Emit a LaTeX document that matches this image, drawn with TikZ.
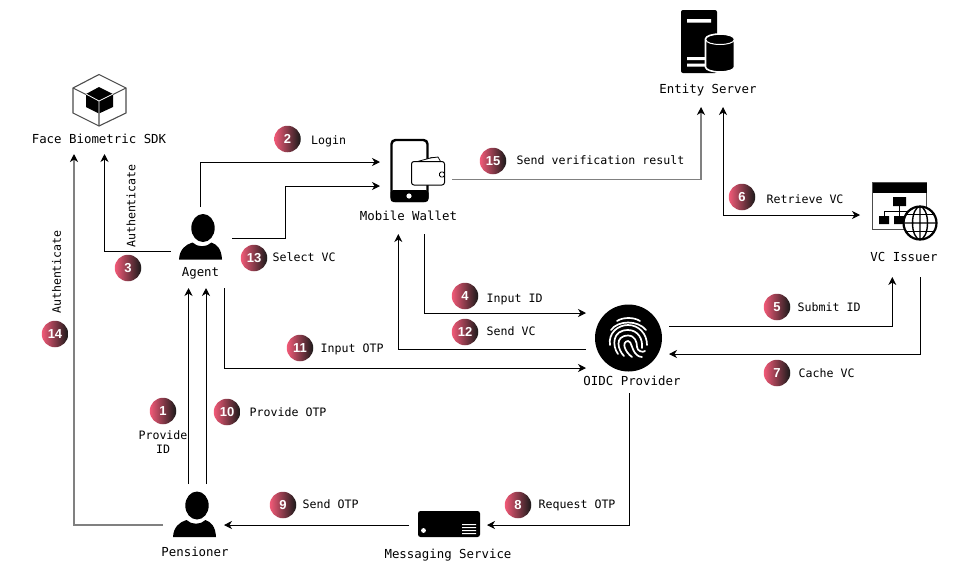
\documentclass[tikz,border=0pt]{standalone}
\usepackage{fontspec}
\setmonofont{DejaVu Sans Mono}
\newfontfamily\digitfont{Liberation Sans}
\usetikzlibrary{arrows.meta, positioning, calc}
\definecolor{badgepink}{HTML}{F25A78}
\definecolor{badgewine}{HTML}{8E2A44}
\tikzset{
    person/.pic={
        \fill[black] (2.5,-31.5) ellipse (11.7 and 14);
        \fill[black] (-21.5,0) .. controls (-21,-10) and (-15,-15) .. (-8,-17) .. controls (-3,-12) and (6,-12) .. (11,-17) .. controls (17,-15) and (21,-10) .. (21.5,0) -- cycle;
    }
}

\begin{document}
\begin{tikzpicture}[
        x=1pt, y=-1pt,
        iconbox/.style={rectangle, inner sep=0pt, outer sep=0pt},
        actorname/.style={font=\ttfamily\fontsize{12.4}{14}\selectfont, text height=9pt, text depth=2.5pt, inner sep=0pt},
        steptext/.style={font=\ttfamily\fontsize{11.6}{14}\selectfont, text height=9pt, text depth=2.5pt, inner sep=0pt},
        badge/.style={circle, minimum size=26.5pt, inner sep=0pt, left color=badgepink, middle color=badgewine, right color=black!90, text=white, font=\digitfont\bfseries\fontsize{13}{13}\selectfont},
        arrow/.style={-{Stealth[length=8pt, width=8pt, inset=2.5pt]}, line width=0.9pt, draw=black},
        fadearrow/.style={-{Stealth[length=8pt, width=8pt, inset=2.5pt, color=black]}, line width=1.1pt, draw=black!50},
        twoway/.style={{Stealth[length=8pt, width=8pt, inset=2.5pt]}-{Stealth[length=8pt, width=8pt, inset=2.5pt]}, line width=0.9pt, draw=black},
    ]
        \useasboundingbox (0,0) rectangle (969,571);

        % Actors (boxes hold icon and connector ends)
        \node[iconbox, minimum width=140pt, minimum height=84pt] (face) at (99,112) {};
        \node[iconbox, minimum width=61pt, minimum height=81pt] (agent) at (201.5,247.5) {};
        \node[iconbox, minimum width=72pt, minimum height=99pt] (wallet) at (416,184.5) {};
        \node[iconbox, minimum width=100pt, minimum height=102pt] (entity) at (708,56) {};
        \node[iconbox, minimum width=90pt, minimum height=102pt] (issuer) at (905,226) {};
        \node[iconbox, minimum width=83pt, minimum height=98pt] (oidc) at (627.5,344) {};
        \node[iconbox, minimum width=61pt, minimum height=78pt] (pensioner) at (193.5,523) {};
        \node[iconbox, minimum width=78pt, minimum height=40pt] (messaging) at (448,525) {};

        % Names
        \node[actorname] (facename) at (99,140.5) {Face Biometric SDK};
        \node[actorname] (agentname) at (200.5,273.5) {Agent};
        \node[actorname] (walletname) at (408.5,217.5) {Mobile Wallet};
        \node[actorname] (entityname) at (708,90.5) {Entity Server};
        \node[actorname] (issuername) at (904,258.5) {VC Issuer};
        \node[actorname] (oidcname) at (632,382.5) {OIDC Provider};
        \node[actorname] (pensionername) at (195,553.5) {Pensioner};
        \node[actorname] (messagingname) at (448,555.5) {Messaging Service};

        % Step badges and their text
        \node[badge] (b1) at (163,411) {1};
        \node[steptext, align=center, below=20pt of b1] (t1) {Provide\\ID};
        \node[badge] (b2) at (287.5,139) {2};
        \node[steptext, right=10pt of b2, yshift=-2pt] (t2) {Login};
        \node[badge] (b3) at (128,268) {3};
        \node[steptext, rotate=90] (t3) at (132,206) {Authenticate};
        \node[badge] (b4) at (465,296) {4};
        \node[steptext, right=8pt of b4, yshift=-3pt] (t4) {Input ID};
        \node[badge] (b5) at (777,307) {5};
        \node[steptext, right=7pt of b5, yshift=-1pt] (t5) {Submit ID};
        \node[badge] (b6) at (742,197) {6};
        \node[steptext, right=11pt of b6, yshift=-3pt] (t6) {Retrieve VC};
        \node[badge] (b7) at (777,373) {7};
        \node[steptext, right=8pt of b7, yshift=-1pt] (t7) {Cache VC};
        \node[badge] (b8) at (518,505) {8};
        \node[steptext, right=7pt of b8] (t8) {Request OTP};
        \node[badge] (b9) at (283,505) {9};
        \node[steptext, right=6pt of b9] (t9) {Send OTP};
        \node[badge] (b10) at (227,412) {10};
        \node[steptext, right=9pt of b10, yshift=-1pt] (t10) {Provide OTP};
        \node[badge] (b11) at (300,348) {11};
        \node[steptext, right=7pt of b11, yshift=-1.5pt] (t11) {Input OTP};
        \node[badge] (b12) at (465,332) {12};
        \node[steptext, right=8pt of b12] (t12) {Send VC};
        \node[badge] (b13) at (254,258) {13};
        \node[steptext, right=5pt of b13] (t13) {Select VC};
        \node[badge] (b14) at (55,334) {14};
        \node[steptext, rotate=90] (t14) at (57.5,272) {Authenticate};
        \node[badge] (b15) at (493,161) {15};
        \node[steptext, right=10pt of b15] (t15) {Send verification result};

        % Arrows
        \draw[arrow] ([xshift=-5pt]pensioner.north) -- ([xshift=-13pt]agent.south);
        \draw[arrow] ([xshift=12.5pt]pensioner.north) -- ([xshift=4.5pt]agent.south);
        \draw[arrow] ([xshift=-1.5pt]agent.north) |- ([yshift=22.5pt]wallet.west);
        \draw[arrow] ([yshift=-3.5pt]agent.west) -| ([xshift=5.5pt]face.south);
        \draw[arrow] ([yshift=9.5pt]agent.east) -- ++(53.5,0) |- ([yshift=-1.5pt]wallet.west);
        \draw[arrow] ([xshift=8.3pt]wallet.south) |- ([yshift=31pt]oidc.west);
        \draw[arrow] ([yshift=-5pt]oidc.west) -| ([xshift=-17.7pt]wallet.south);
        \draw[arrow] ([xshift=22.8pt]agent.south) |- ([yshift=-24pt]oidc.west);
        \draw[arrow] ([yshift=18pt]oidc.east) -| ([xshift=-12.7pt]issuer.south);
        \draw[arrow] ([xshift=15.3pt]issuer.south) |- ([yshift=-10pt]oidc.east);
        \draw[twoway] ([xshift=15pt]entity.south) |- ([yshift=11pt]issuer.west);
        \draw[arrow] ([xshift=2pt]oidc.south) |- (messaging.east);
        \draw[arrow] (messaging.west) -- ([yshift=-2pt]pensioner.east);
        \draw[fadearrow] ([yshift=-2pt]pensioner.west) -| ([xshift=-25pt]face.south);
        \draw[fadearrow] ([yshift=5pt]wallet.east) -| ([xshift=-7pt]entity.south);

        % Person icons
        \pic at (200.5,259.5) {person};
        \pic at (194.5,537) {person};

        % Cube icon
        \draw[black!70, line width=1.1pt] (99,74.5) -- (126,88) -- (126,113) -- (99,126) -- (73,113) -- (73,88) -- cycle;
        \draw[black!70, line width=1.1pt] (73,88) -- (86,94.5) (126,88) -- (113,94.5) (99,126) -- (99,113);
        \fill[black] (99,87) -- (113,94) -- (113,107) -- (99,113.5) -- (86,107) -- (86,94) -- cycle;
        \draw[white, line width=0.8pt] (86,94) -- (99,101) -- (113,94) (99,101) -- (99,113.5);

        % Wallet icon
        \draw[black, line width=2.4pt, rounded corners=4pt] (391.5,140) rectangle (427.5,201);
        \fill[black, rounded corners=3pt] (390.5,190) rectangle (428.5,202);
        \fill[white] (409,196) circle (2.6);
        \draw[black, fill=white, line width=0.8pt, rounded corners=1.5pt] (412,163) -- (434,157) -- (441,163);
        \draw[black, fill=white, line width=0.8pt] (430,158) -- (438,157) -- (442,164);
        \draw[black, fill=white, line width=1pt, rounded corners=2.5pt] (411.5,161.5) rectangle (444.5,185);
        \draw[black, fill=white, line width=0.9pt, rounded corners=1.5pt] (439.5,172) rectangle (444.5,177);

        % Server icon
        \fill[black, rounded corners=2pt] (681,10) rectangle (717,73);
        \fill[white] (687,19) rectangle (711,22.5) (687,57) rectangle (706,60) (687,63.5) rectangle (706,66.5);
        \draw[white, fill=black, line width=1.6pt] (705.5,39) -- (705.5,67) arc[start angle=180, end angle=360, x radius=14.5, y radius=-5] -- (734.5,39) arc[start angle=0, end angle=180, x radius=14.5, y radius=-5] -- cycle;
        \draw[white, line width=1pt] (706,40) arc[start angle=180, end angle=360, x radius=14, y radius=-4.5];

        % Issuer icon
        \draw[black!70, line width=0.9pt] (872.5,182.5) rectangle (926.5,229);
        \fill[black] (872.5,182.5) rectangle (926.5,193);
        \fill[black] (893,197) rectangle (906,206) (879,216) rectangle (889,224) (894,216) rectangle (904,224);
        \draw[black, line width=1pt] (899.5,206) -- (899.5,216) (884,216) -- (884,211) -- (910,211);
        \draw[black, fill=white, line width=2.2pt] (920,223) circle (16.5);
        \draw[black, line width=1.4pt] (920,223) ellipse (7.5 and 16.5) (920,206.5) -- (920,239.5) (903.5,223) -- (936.5,223);
        \draw[black, line width=1.4pt] (906,214.5) -- (934,214.5) (906,231.5) -- (934,231.5);

        % Fingerprint icon
        \fill[black] (628.5,338) circle (33.5);
        \begin{scope}[white, line width=1.7pt, line cap=round]
            \draw (617,321) .. controls (623,317) and (634,317) .. (640,321);
            \draw (611,330) .. controls (618,320) and (638,320) .. (646,330);
            \draw (610,345) .. controls (608,333) and (618,325) .. (628,325) .. controls (639,325) and (647,334) .. (647,345);
            \draw (618,354) .. controls (612,346) and (612,330) .. (628,330) .. controls (638,330) and (643,339) .. (642,348);
            \draw (624,356) .. controls (618,350) and (614,336) .. (628,335.5) .. controls (635,335.5) and (637,342) .. (637,347) .. controls (637,351) and (643,353) .. (645,351);
            \draw (632,357) .. controls (625,352) and (621,342) .. (628,341) .. controls (632,341) and (631,350) .. (637,355) .. controls (638,356) and (640,357) .. (642,357);
        \end{scope}

        % Messaging icon
        \fill[black, rounded corners=2.5pt] (418,511) rectangle (480,537);
        \fill[white] (423.5,530.5) circle (2.4);
        \fill[white] (462,524) rectangle (476,525) (462,527) rectangle (476,528) (462,530) rectangle (476,531) (462,533) rectangle (476,534);
    \end{tikzpicture}
\end{document}
